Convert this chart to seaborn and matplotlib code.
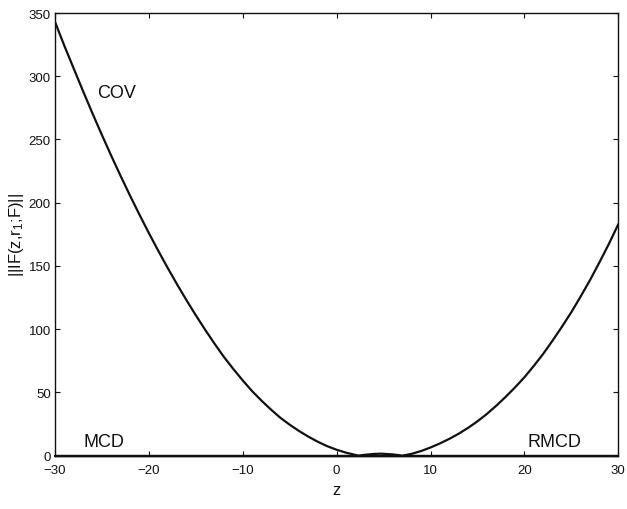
import numpy as np
import pandas as pd
import matplotlib
matplotlib.use("Agg")
import matplotlib.pyplot as plt
import seaborn as sns

# Data (COV influence-function norm)
z_cov = [-30, -29, -28, -27, -26, -25, -24, -23, -22, -21,
         -20, -19, -18, -17, -16, -15, -14, -13, -12, -11,
         -10, -9, -8, -7, -6, -5, -4, -3, -2, -1,
         0, 1, 2, 2.3, 3, 4, 4.7, 5, 6, 7,
         8, 9, 10, 11, 12, 13, 14, 15, 16, 17,
         18, 19, 20, 21, 22, 23, 24, 25, 26, 27,
         28, 29, 30]
if_cov = [343, 324, 306, 288, 270.5, 253.5, 237, 221, 205.5, 190.5,
          176, 162, 148.5, 135.5, 123, 111, 99.5, 88.5, 78, 68.5,
          59.5, 51, 43.5, 36.5, 30, 24.5, 19.5, 15, 11, 7.5,
          4.7, 2.4, 0.6, 0.0, 0.7, 1.4, 1.6, 1.5, 1.0, 0.0,
          1.5, 3.7, 6.5, 9.7, 13.3, 17.4, 22, 27.2, 33, 39.5,
          46.5, 54, 62, 71, 80.5, 91, 102, 113.5, 126, 139,
          153, 167.5, 183]
z_robust = [-30, 30]
if_mcd = [0, 0]
if_rmcd = [0, 0]

x_ticks = [-30, -20, -10, 0, 10, 20, 30]
y_ticks = [0, 50, 100, 150, 200, 250, 300, 350]

sns.set_theme(style="white")
plt.rcParams['font.family'] = ['Liberation Sans', 'DejaVu Sans']
plt.rcParams['mathtext.default'] = 'regular'

fig = plt.figure(figsize=(6.27, 5.10), dpi=100)
ax = fig.add_axes([55/627, 1 - 456.7/510, (618.3-55)/627, (456.7-14)/510])

df_cov = pd.DataFrame({"z": z_cov, "IF": if_cov})
df_mcd = pd.DataFrame({"z": z_robust, "IF": if_mcd})
df_rmcd = pd.DataFrame({"z": z_robust, "IF": if_rmcd})

ink = "#111111"
sns.lineplot(data=df_cov, x="z", y="IF", ax=ax, color=ink, linewidth=1.6, sort=False)
sns.lineplot(data=df_mcd, x="z", y="IF", ax=ax, color=ink, linewidth=1.6, sort=False, clip_on=False)
sns.lineplot(data=df_rmcd, x="z", y="IF", ax=ax, color=ink, linewidth=1.6, sort=False, clip_on=False)

ax.set_xlim(-30, 30)
ax.set_ylim(0, 350)
ax.set_xticks(x_ticks)
ax.set_yticks(y_ticks)
ax.set_xticklabels([f"\u2212{abs(t)}" if t < 0 else str(t) for t in x_ticks])
ax.set_yticklabels([str(t) for t in y_ticks])
ax.tick_params(direction="in", length=3.6, width=0.8, labelsize=9.5, colors=ink,
               top=True, right=True, bottom=True, left=True)
ax.tick_params(axis="x", pad=6)
ax.tick_params(axis="y", pad=3)
for s in ax.spines.values():
    s.set_visible(True)
    s.set_color(ink)
    s.set_linewidth(1.0)

ax.set_xlabel("z", fontsize=12, color=ink, labelpad=4)
ax.set_ylabel(r"||IF(z,r$_1$;F)||", fontsize=12, color=ink, labelpad=2)

ax.text(-25.5, 287, "COV", fontsize=13, color=ink, va="center", ha="left")
ax.text(-27.0, 11, "MCD", fontsize=13, color=ink, va="center", ha="left")
ax.text(20.3, 11, "RMCD", fontsize=13, color=ink, va="center", ha="left")

fig.savefig("out.png", dpi=100)
